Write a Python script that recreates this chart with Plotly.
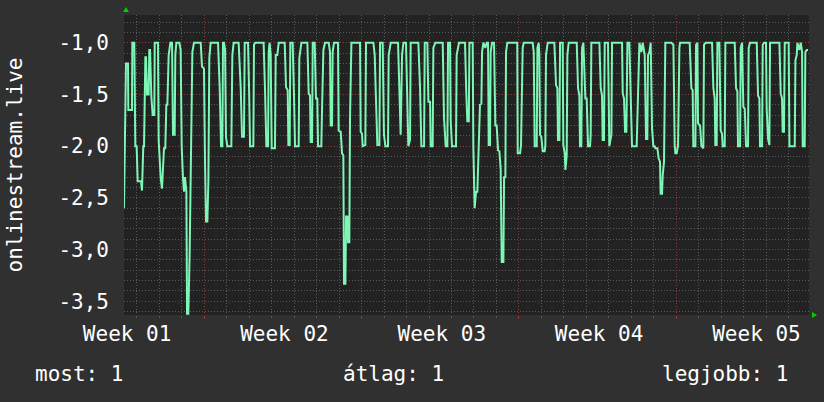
import plotly.graph_objects as go

# ---- data (time in hours from the left edge, value) ----
SAMPLES = [
    (0, -2.6), (2.1, -1.2), (4.3, -1.2), (4.6, -1.65), (8.5, -1.65), (8.9, -1.0), (11.0, -1.0),
    (12.1, -2.0), (13.5, -2.0), (14.6, -2.34), (18.2, -2.34), (19.2, -2.43), (20.6, -2.0), (21.4, -2.0),
    (22.8, -1.14), (23.5, -1.14), (24.6, -1.5), (26.3, -1.5), (27.0, -1.07), (27.8, -1.07), (29.2, -1.52),
    (30.6, -1.7), (32.4, -1.7), (32.8, -1.0), (36.3, -1.0), (37.0, -1.94), (39.2, -2.31), (40.6, -2.41),
    (42.7, -2.02), (44.1, -2.02), (45.2, -1.6), (46.3, -1.6), (47.7, -1.12), (49.5, -1.0), (51.3, -1.0),
    (52.3, -1.89), (54.1, -1.89), (54.8, -1.12), (55.9, -1.0), (59.1, -1.0), (60.5, -1.07), (61.6, -2.0),
    (63.0, -2.31), (64.1, -2.44), (65.1, -2.3), (66.6, -2.44), (67.3, -3.62), (68.7, -3.62), (70.1, -3.04),
    (71.5, -2.15), (73.0, -1.09), (74.7, -1.0), (81.9, -1.0), (83.3, -1.23), (85.4, -1.25), (86.5, -2.15),
    (87.6, -2.73), (89.0, -2.73), (90.1, -2.34), (91.1, -1.15), (92.5, -1.0), (100.4, -1.0), (102.2, -1.44),
    (103.6, -2.0), (105.0, -2.0), (105.7, -1.0), (106.8, -1.0), (107.9, -1.07), (108.9, -1.91), (110.3, -2.0),
    (114.6, -2.0), (115.7, -1.12), (117.1, -1.0), (122.4, -1.0), (124.6, -1.43), (126.0, -1.91), (128.1, -1.91),
    (128.9, -1.0), (132.4, -1.0), (133.5, -1.43), (134.6, -2.0), (138.1, -2.0), (138.8, -1.02), (140.2, -1.0),
    (149.1, -1.0), (150.6, -1.47), (152.0, -2.0), (153.8, -2.0), (154.5, -1.09), (155.5, -1.0), (156.6, -1.12),
    (157.7, -2.02), (161.2, -2.02), (162.0, -1.12), (163.7, -1.12), (165.2, -1.0), (171.6, -1.0), (173.0, -1.43),
    (174.8, -1.46), (175.5, -1.99), (176.9, -1.99), (177.6, -1.0), (180.1, -1.0), (181.5, -1.5),
    (182.6, -2.0), (186.5, -2.0), (187.2, -1.15), (189.4, -1.0), (195.8, -1.0), (197.2, -1.49), (198.6, -1.51),
    (199.3, -1.96), (200.8, -1.96), (201.5, -1.0), (203.6, -1.0), (205.0, -1.54), (206.4, -1.54), (207.2, -2.0),
    (210.7, -2.0), (211.4, -1.67), (212.9, -1.07), (214.6, -1.0), (218.6, -1.0), (220.0, -1.09), (220.7, -1.8),
    (222.1, -1.8), (222.8, -1.09), (224.2, -1.0), (228.5, -1.0), (229.2, -1.85), (231.4, -1.86), (232.8, -2.07),
    (234.2, -2.09), (234.9, -3.33), (236.4, -3.33), (237.1, -2.68), (238.5, -2.68), (239.2, -2.93), (240.6, -2.93),
    (241.3, -1.75), (242.8, -1.0), (252.0, -1.0), (252.7, -1.86), (254.1, -1.88), (254.9, -2.0), (257.7, -1.99),
    (258.4, -1.0), (266.3, -1.0), (267.7, -1.12), (268.7, -1.44), (270.5, -1.99), (272.7, -1.99), (273.4, -1.0),
    (276.2, -1.0), (277.6, -1.89), (279.1, -2.0), (281.9, -2.0), (282.6, -1.12), (284.8, -1.0), (292.6, -1.0),
    (294.0, -1.47), (295.4, -1.89), (296.9, -1.12), (298.3, -1.0), (301.1, -1.0), (302.5, -1.73), (303.6, -2.0),
    (305.4, -1.94), (306.1, -1.0), (314.3, -1.0), (316.1, -1.44), (317.5, -2.0), (320.4, -2.0), (321.1, -1.0),
    (323.9, -1.0), (325.0, -1.57), (326.8, -1.57), (327.5, -2.0), (329.6, -2.0), (330.3, -1.05), (332.4, -1.0),
    (340.3, -1.0), (341.7, -1.73), (343.5, -2.0), (345.3, -2.0), (346.0, -1.0), (348.1, -1.0), (348.8, -1.75),
    (350.2, -2.0), (354.5, -2.0), (355.2, -1.12), (357.7, -1.0), (364.1, -1.0), (365.5, -1.49), (366.6, -1.76),
    (368.2, -1.76), (368.8, -1.0), (372.3, -1.0), (373.0, -2.0), (374.4, -2.6), (375.9, -2.44), (377.3, -2.44),
    (378.7, -2.0), (380.1, -1.6), (381.6, -1.59), (382.3, -1.09), (383.7, -1.0), (385.8, -1.05), (387.3, -1.0),
    (388.7, -1.0), (389.4, -1.99), (390.8, -1.99), (391.5, -1.09), (393.0, -1.0), (395.1, -1.0), (396.5, -1.8),
    (397.9, -1.8), (399.4, -2.04), (400.8, -2.05), (402.2, -2.22), (403.3, -3.12), (405.1, -3.12), (405.8, -2.3),
    (407.2, -2.3), (407.9, -1.09), (409.3, -1.0), (419.9, -1.0), (420.4, -2.07), (422.9, -2.07), (423.9, -1.99),
    (425.7, -1.05), (426.8, -1.0), (436.4, -1.0), (437.5, -1.09), (438.5, -2.0), (440.7, -2.0), (441.4, -1.05),
    (442.8, -1.0), (443.5, -1.12), (444.2, -1.89), (445.6, -1.91), (447.1, -2.05), (449.2, -2.05), (449.9, -1.99),
    (450.6, -1.12), (452.4, -1.0), (459.5, -1.0), (461.3, -1.41), (462.7, -1.44), (463.4, -1.94), (464.9, -1.94),
    (465.6, -1.0), (468.4, -1.0), (469.1, -1.99), (470.6, -2.07), (471.3, -2.23), (472.7, -2.09), (473.4, -1.12),
    (474.8, -1.0), (483.4, -1.0), (484.8, -1.44), (486.2, -1.51), (486.9, -2.0), (488.3, -2.0), (489.1, -1.05),
    (490.5, -1.0), (492.6, -1.54), (494.0, -1.54), (495.5, -2.0), (497.6, -2.0), (498.3, -1.89), (499.0, -1.0),
    (507.6, -1.0), (509.0, -1.44), (510.4, -1.51), (511.1, -1.94), (512.5, -1.94), (513.3, -1.0), (516.8, -1.0),
    (517.5, -1.7), (518.2, -2.0), (520.4, -1.89), (521.1, -1.0), (531.8, -1.0), (532.5, -1.49), (533.9, -1.54),
    (535.0, -1.86), (536.4, -1.86), (537.5, -1.0), (539.6, -1.0), (541.0, -1.54), (542.4, -2.0), (547.4, -2.0),
    (548.9, -1.57), (550.3, -1.0), (552.4, -1.09), (553.8, -1.0), (556.0, -1.12), (557.4, -1.93), (558.8, -1.93),
    (559.5, -1.12), (561.0, -1.09), (562.4, -1.0), (563.8, -1.83), (565.2, -2.0), (566.6, -2.0), (567.4, -2.02),
    (569.5, -2.02), (570.9, -2.12), (572.3, -2.15), (573.0, -2.46), (574.5, -2.46), (575.2, -2.28), (576.6, -2.15),
    (577.3, -1.12), (578.0, -1.0), (584.4, -1.0), (586.6, -1.02), (588.0, -1.99), (588.7, -2.07), (590.1, -2.07),
    (591.6, -1.99), (593.0, -1.05), (593.7, -1.0), (604.0, -1.0), (605.8, -1.44), (607.2, -1.46), (607.9, -2.0),
    (610.1, -2.0), (610.8, -1.02), (612.2, -1.0), (612.9, -1.78), (615.1, -1.8), (616.5, -2.0), (618.6, -2.02),
    (619.3, -1.02), (621.1, -1.0), (627.9, -1.0), (629.3, -1.44), (630.7, -1.54), (631.4, -1.99), (632.8, -1.99),
    (633.6, -1.0), (635.7, -1.0), (637.1, -1.85), (638.5, -1.88), (639.3, -2.0), (641.4, -2.0), (642.1, -1.0),
    (652.1, -1.0), (653.5, -1.44), (654.9, -1.47), (655.6, -2.0), (657.8, -2.0), (658.5, -1.05), (659.9, -1.0),
    (661.3, -1.62), (662.8, -1.64), (664.2, -2.0), (666.3, -2.0), (667.0, -1.05), (668.4, -1.0), (675.6, -1.0),
    (677.0, -1.51), (678.4, -1.54), (679.1, -2.0), (681.3, -2.0), (682.0, -1.02), (683.4, -1.0), (685.5, -1.0),
    (686.2, -1.64), (687.7, -1.93), (689.1, -1.99), (689.8, -1.0), (691.2, -1.0), (699.8, -1.0), (701.2, -1.49),
    (702.6, -1.54), (703.3, -1.86), (704.7, -1.86), (705.5, -1.0), (709.7, -1.0), (710.5, -2.0), (716.2, -2.0),
    (716.9, -1.17), (718.3, -1.12), (719.0, -1.0), (721.1, -1.07), (722.6, -1.0), (724.0, -1.09), (724.7, -2.0),
    (726.8, -2.0), (727.5, -1.09), (729.0, -1.07), (730.4, -1.07),
]
HOURS = [s[0] for s in SAMPLES]
VALUES = [s[1] for s in SAMPLES]

X_RANGE = [0, 731.4]
Y_RANGE = [-3.633, -0.732]
Y_TICKS = [-3.5, -3.0, -2.5, -2.0, -1.5, -1.0]
Y_TICK_TEXT = ["-3,5", "-3,0", "-2,5", "-2,0", "-1,5", "-1,0"]
WEEK_STARTS = [85.7, 253.7, 421.7, 589.7]
WEEK_LABEL_POS = [3.3, 171.3, 339.3, 507.3, 675.3]
WEEK_LABELS = ["Week 01", "Week 02", "Week 03", "Week 04", "Week 05"]
SERIES_NAME = "onlinestream.live"
SUMMARY_LABELS = ["most: 1", "átlag: 1", "legjobb: 1"]

FONT = "DejaVu Sans Mono"
TXT = "#ffffff"
LINE = "#7ef6b6"
RED = "#8e3c3c"
GREY = "#5a5a5a"
ARROW = "#00d000"

fig = go.Figure()
fig.add_trace(go.Scatter(x=HOURS, y=VALUES, mode="lines",
                         line=dict(color=LINE, width=2), hoverinfo="skip",
                         xaxis="x", yaxis="y", showlegend=False))
fig.add_trace(go.Scatter(x=[HOURS[0], HOURS[-1]], y=[VALUES[0], VALUES[-1]], mode="markers",
                         marker=dict(opacity=0), hoverinfo="skip",
                         xaxis="x2", yaxis="y", showlegend=False))

fig.update_layout(
    width=824, height=402,
    margin=dict(l=124, r=15, t=15, b=87),
    paper_bgcolor="#303030", plot_bgcolor="#222222",
    font=dict(family=FONT, size=21, color=TXT),
    xaxis=dict(range=X_RANGE, tickmode="array", tickvals=WEEK_STARTS, ticktext=[""] * len(WEEK_STARTS),
               showgrid=True, gridcolor=RED, griddash="1px,2px", gridwidth=1,
               ticks="outside", ticklen=3, tickcolor=RED, zeroline=False, showline=False,
               minor=dict(tick0=WEEK_STARTS[0], dtick=24, showgrid=True, gridcolor=GREY,
                          griddash="1px,2px", ticks="outside", ticklen=2, tickcolor=GREY)),
    xaxis2=dict(overlaying="x", matches="x", anchor="y", side="bottom", range=X_RANGE,
                tickmode="array", tickvals=WEEK_LABEL_POS, ticktext=WEEK_LABELS,
                showgrid=False, zeroline=False, showline=False, ticks="",
                tickfont=dict(family=FONT, size=21, color=TXT), ticklabelstandoff=4),
    yaxis=dict(range=Y_RANGE, tickmode="array", tickvals=Y_TICKS, ticktext=Y_TICK_TEXT,
               showgrid=True, gridcolor=RED, griddash="1px,2px", gridwidth=1,
               zeroline=False, showline=False, ticks="", ticklabelstandoff=14,
               tickfont=dict(family=FONT, size=21, color=TXT),
               title=dict(text=SERIES_NAME, font=dict(family=FONT, size=21, color=TXT), standoff=30),
               minor=dict(tick0=0, dtick=0.1, showgrid=True, gridcolor=GREY, griddash="1px,2px")),
    hovermode=False,
)

positions = [(-0.133, "left"), (0.317, "left"), (0.972, "right")]
for text, (px, anchor) in zip(SUMMARY_LABELS, positions):
    fig.add_annotation(text=text, xref="paper", yref="paper", x=px, y=-0.197,
                       xanchor=anchor, yanchor="middle", showarrow=False,
                       font=dict(family=FONT, size=21, color=TXT))

# green axis arrows
fig.add_shape(type="path", xref="paper", yref="paper", xsizemode="pixel", ysizemode="pixel",
              xanchor=0, yanchor=1, path="M -1,3 L 5,3 L 2,8 Z",
              fillcolor=ARROW, line=dict(width=0))
fig.add_shape(type="path", xref="paper", yref="paper", xsizemode="pixel", ysizemode="pixel",
              xanchor=1, yanchor=0, path="M 3,-3 L 3,3 L 8,0 Z",
              fillcolor=ARROW, line=dict(width=0))

fig.write_html("out.html", config={"displayModeBar": False},
               post_script="document.body.style.margin='0';")
